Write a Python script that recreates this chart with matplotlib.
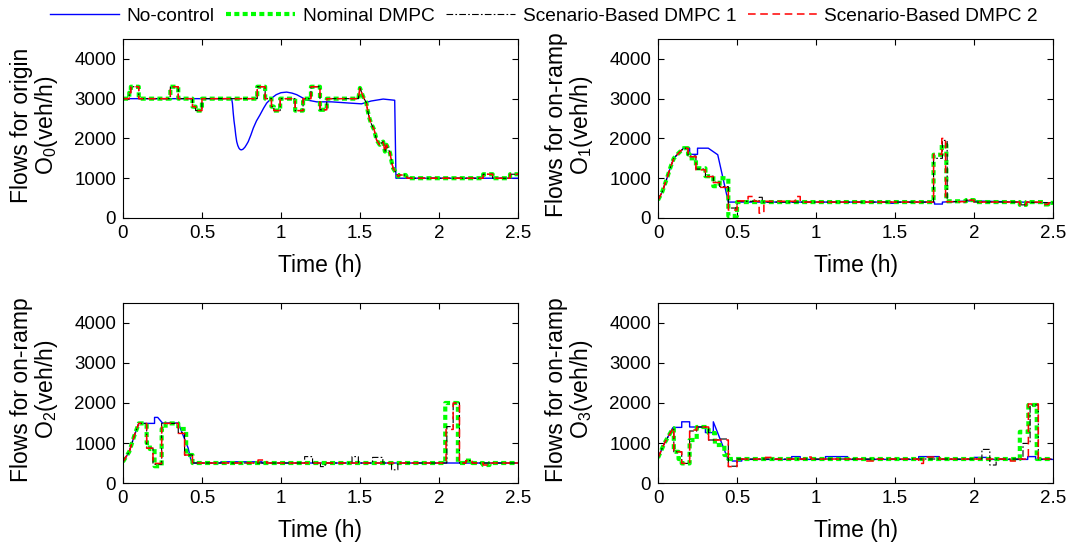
import matplotlib
matplotlib.use("Agg")
import matplotlib.pyplot as plt

plt.rcParams["font.family"] = ["Liberation Sans", "DejaVu Sans"]
plt.rcParams["mathtext.default"] = "regular"

# ----------------- data: (time h, flow veh/h) vertices -----------------
# O0 : origin
o0_nocontrol = [(0, 3000), (0.688, 3000), (0.693, 2880), (0.698, 2640), (0.703, 2440), (0.709, 2260),
                (0.714, 2080), (0.72, 1920), (0.727, 1820), (0.735, 1750), (0.743, 1718), (0.751, 1713),
                (0.76, 1730), (0.772, 1780), (0.783, 1850), (0.793, 1920), (0.81, 2090), (0.825, 2260),
                (0.845, 2440), (0.867, 2590), (0.89, 2760), (0.91, 2890), (0.94, 3010), (0.97, 3100),
                (1.0, 3150), (1.036, 3165), (1.07, 3140), (1.10, 3100), (1.16, 2970), (1.226, 2920),
                (1.32, 2920), (1.43, 2890), (1.51, 2870), (1.57, 2940), (1.647, 2990), (1.72, 2960),
                (1.728, 1000), (2.5, 1000)]
o0_nominal = [(0, 3000), (0.04, 3000), (0.04, 3150), (0.05, 3150), (0.05, 3300), (0.10, 3300), (0.10, 3000),
              (0.30, 3000), (0.30, 3300), (0.35, 3300), (0.35, 3000), (0.44, 3000), (0.44, 2800), (0.46, 2800),
              (0.46, 2700), (0.50, 2700), (0.50, 3000), (0.85, 3000), (0.85, 3300), (0.90, 3300), (0.90, 3000),
              (0.94, 3000), (0.94, 2800), (0.955, 2800), (0.955, 2700), (0.995, 2700), (0.995, 3000),
              (1.09, 3000), (1.09, 2700), (1.14, 2700), (1.14, 3000), (1.19, 3000), (1.19, 3300),
              (1.247, 3300), (1.247, 2720), (1.29, 2720), (1.29, 3000), (1.49, 3000), (1.50, 3270),
              (1.52, 3050), (1.54, 2900), (1.55, 2680), (1.56, 2510), (1.57, 2385), (1.59, 2217),
              (1.605, 1965), (1.625, 1840), (1.647, 1920), (1.658, 1670), (1.668, 1840), (1.69, 1640),
              (1.70, 1420), (1.71, 1250), (1.73, 1125), (1.743, 1040), (1.75, 1080), (1.79, 1080),
              (1.80, 1000), (2.28, 1000), (2.28, 1100), (2.34, 1100), (2.34, 1000), (2.45, 1000),
              (2.45, 1100), (2.5, 1100)]
o0_sb1 = o0_nominal
o0_sb2 = o0_nominal

# O1 : on-ramp 1
o1_nocontrol = [(0, 450), (0.027, 660), (0.06, 1040), (0.08, 1290), (0.10, 1500), (0.13, 1630), (0.162, 1755),
                (0.20, 1755), (0.20, 1600), (0.25, 1600), (0.25, 1755), (0.318, 1755), (0.378, 1590),
                (0.445, 400), (1.47, 400), (1.47, 370), (1.51, 370), (1.51, 400), (1.75, 400), (1.75, 350),
                (1.80, 350), (1.80, 400), (1.98, 430), (2.5, 380)]
o1_nominal = [(0, 450), (0.027, 660), (0.06, 1040), (0.08, 1290), (0.10, 1500), (0.13, 1630), (0.162, 1755),
              (0.19, 1755), (0.19, 1600), (0.20, 1600), (0.20, 1500), (0.24, 1500), (0.24, 1250), (0.30, 1250),
              (0.30, 1050), (0.35, 1050), (0.35, 800), (0.39, 800), (0.39, 1000), (0.445, 1000), (0.445, 50),
              (0.50, 50), (0.50, 400), (1.744, 400), (1.744, 1590), (1.796, 1590), (1.796, 1840),
              (1.825, 1840), (1.825, 420), (1.95, 420), (1.95, 450), (2.0, 450), (2.0, 400), (2.29, 400),
              (2.29, 330), (2.33, 330), (2.33, 400), (2.44, 400), (2.44, 340), (2.47, 340), (2.47, 380),
              (2.5, 380)]
o1_sb1 = [(0, 450), (0.027, 660), (0.06, 1040), (0.08, 1290), (0.10, 1500), (0.13, 1630), (0.162, 1755),
          (0.19, 1755), (0.19, 1560), (0.24, 1560), (0.24, 1230), (0.30, 1230), (0.30, 1050), (0.35, 1050),
          (0.35, 900), (0.39, 900), (0.39, 790), (0.445, 790), (0.445, 250), (0.50, 250), (0.50, 420),
          (0.64, 420), (0.64, 520), (0.66, 520), (0.66, 400), (1.744, 400), (1.744, 1500), (1.80, 1500),
          (1.80, 1950), (1.83, 1950), (1.83, 410), (1.95, 410), (1.95, 450), (2.0, 450), (2.0, 400),
          (2.29, 400), (2.29, 330), (2.33, 330), (2.33, 400), (2.5, 380)]
o1_sb2 = [(0, 450), (0.027, 660), (0.06, 1040), (0.08, 1290), (0.10, 1500), (0.13, 1630), (0.162, 1755),
          (0.19, 1755), (0.19, 1540), (0.24, 1540), (0.24, 1210), (0.30, 1210), (0.30, 1040), (0.35, 1040),
          (0.35, 890), (0.39, 890), (0.39, 770), (0.445, 770), (0.445, 200), (0.50, 200), (0.50, 430),
          (0.57, 430), (0.57, 540), (0.61, 540), (0.61, 420), (0.64, 420), (0.64, 120), (0.67, 120),
          (0.67, 420), (0.87, 420), (0.87, 540), (0.90, 540), (0.90, 400), (1.744, 400), (1.744, 1600),
          (1.796, 1600), (1.796, 2000), (1.82, 2000), (1.82, 410), (1.95, 410), (1.95, 450), (2.0, 450),
          (2.0, 400), (2.29, 400), (2.29, 330), (2.33, 330), (2.33, 400), (2.44, 400), (2.44, 340),
          (2.47, 340), (2.47, 380), (2.5, 380)]

# O2 : on-ramp 2
o2_nocontrol = [(0, 530), (0.04, 783), (0.07, 1160), (0.10, 1490), (0.20, 1490), (0.20, 1640), (0.22, 1640),
                (0.25, 1500), (0.35, 1500), (0.413, 870), (0.43, 575), (0.45, 500), (0.62, 500), (0.62, 530),
                (0.88, 530), (0.88, 500), (2.5, 500)]
o2_nominal = [(0, 530), (0.04, 783), (0.07, 1160), (0.10, 1490), (0.15, 1490), (0.15, 1000), (0.17, 1000),
              (0.17, 850), (0.20, 850), (0.20, 420), (0.245, 420), (0.245, 1350), (0.27, 1350), (0.27, 1490),
              (0.35, 1490), (0.35, 1350), (0.40, 1350), (0.40, 700), (0.44, 700), (0.44, 500), (2.04, 500),
              (2.04, 2000), (2.12, 2000), (2.12, 500), (2.17, 500), (2.17, 560), (2.21, 560), (2.21, 500),
              (2.28, 500), (2.28, 450), (2.32, 450), (2.32, 500), (2.5, 500)]
o2_sb1 = [(0, 530), (0.04, 783), (0.07, 1160), (0.10, 1490), (0.15, 1490), (0.15, 870), (0.19, 870),
          (0.19, 470), (0.245, 470), (0.245, 1490), (0.35, 1490), (0.35, 1260), (0.39, 1260), (0.39, 700),
          (0.44, 700), (0.44, 500), (1.15, 500), (1.15, 660), (1.20, 660), (1.20, 500), (1.25, 500),
          (1.25, 410), (1.28, 410), (1.28, 500), (1.45, 500), (1.45, 660), (1.49, 660), (1.49, 500),
          (1.58, 500), (1.58, 640), (1.645, 640), (1.645, 500), (1.70, 500), (1.70, 330), (1.74, 330),
          (1.74, 500), (2.05, 500), (2.05, 1410), (2.09, 1410), (2.09, 2000), (2.13, 2000), (2.13, 500),
          (2.17, 500), (2.17, 560), (2.21, 560), (2.21, 500), (2.5, 500)]
o2_sb2 = [(0, 530), (0.04, 783), (0.07, 1160), (0.10, 1490), (0.15, 1490), (0.15, 870), (0.19, 870),
          (0.19, 490), (0.245, 490), (0.245, 1490), (0.35, 1490), (0.35, 1240), (0.39, 1240), (0.39, 700),
          (0.44, 700), (0.44, 500), (0.855, 500), (0.855, 575), (0.91, 575), (0.91, 500), (2.045, 500),
          (2.045, 1340), (2.09, 1340), (2.09, 2000), (2.13, 2000), (2.13, 500), (2.17, 500), (2.17, 560),
          (2.21, 560), (2.21, 500), (2.28, 500), (2.28, 450), (2.32, 450), (2.32, 500), (2.5, 500)]

# O3 : on-ramp 3
o3_nocontrol = [(0, 630), (0.04, 990), (0.095, 1390), (0.15, 1390), (0.15, 1530), (0.20, 1530), (0.20, 1400),
                (0.30, 1400), (0.30, 1260), (0.35, 1260), (0.35, 1530), (0.445, 575), (0.47, 590), (0.47, 550),
                (0.53, 550), (0.53, 590), (0.846, 590), (0.846, 660), (0.90, 660), (0.90, 590), (1.06, 590),
                (1.06, 660), (1.20, 660), (1.20, 590), (1.65, 590), (1.65, 660), (1.78, 660), (1.78, 590),
                (2.0, 590), (2.0, 640), (2.08, 640), (2.08, 590), (2.34, 590), (2.34, 660), (2.39, 660),
                (2.39, 590), (2.5, 590)]
o3_nominal = [(0, 630), (0.04, 990), (0.095, 1370), (0.10, 1370), (0.10, 780), (0.13, 780), (0.13, 600),
              (0.15, 600), (0.15, 490), (0.20, 490), (0.20, 1075), (0.245, 1075), (0.245, 1400), (0.32, 1400),
              (0.32, 1250), (0.36, 1250), (0.36, 950), (0.42, 950), (0.42, 700), (0.445, 700), (0.445, 600),
              (2.29, 600), (2.29, 1280), (2.344, 1280), (2.344, 1950), (2.397, 1950), (2.397, 600), (2.5, 600)]
o3_sb1 = [(0, 630), (0.04, 990), (0.095, 1370), (0.10, 1370), (0.10, 780), (0.15, 780), (0.15, 490),
          (0.20, 490), (0.20, 1300), (0.245, 1300), (0.245, 1400), (0.32, 1400), (0.32, 1075), (0.38, 1075),
          (0.38, 1100), (0.445, 1100), (0.445, 420), (0.50, 420), (0.50, 600), (2.05, 600), (2.05, 840),
          (2.10, 840), (2.10, 450), (2.14, 450), (2.14, 600), (2.31, 600), (2.31, 990), (2.355, 990),
          (2.355, 1950), (2.407, 1950), (2.407, 600), (2.5, 600)]
o3_sb2 = [(0, 630), (0.04, 990), (0.095, 1370), (0.10, 1370), (0.10, 780), (0.15, 780), (0.15, 490),
          (0.20, 490), (0.20, 1325), (0.245, 1325), (0.245, 1400), (0.32, 1400), (0.32, 1075), (0.445, 1075),
          (0.445, 410), (0.50, 410), (0.50, 600), (0.68, 600), (0.68, 640), (0.72, 640), (0.72, 600),
          (0.93, 600), (0.93, 650), (0.97, 650), (0.97, 600), (1.31, 600), (1.31, 550), (1.37, 550),
          (1.37, 600), (1.65, 600), (1.65, 490), (1.68, 490), (1.68, 650), (1.78, 650), (1.78, 600),
          (2.23, 600), (2.23, 550), (2.28, 550), (2.28, 600), (2.344, 600), (2.344, 1975), (2.407, 1975),
          (2.407, 600), (2.5, 600)]

panels = [
    ("Flows for origin\nO$_0$(veh/h)", o0_nocontrol, o0_nominal, o0_sb1, o0_sb2),
    ("Flows for on-ramp\nO$_1$(veh/h)", o1_nocontrol, o1_nominal, o1_sb1, o1_sb2),
    ("Flows for on-ramp\nO$_2$(veh/h)", o2_nocontrol, o2_nominal, o2_sb1, o2_sb2),
    ("Flows for on-ramp\nO$_3$(veh/h)", o3_nocontrol, o3_nominal, o3_sb1, o3_sb2),
]

# ----------------- styles -----------------
styles = [
    dict(color="#0000ff", lw=1.0, ls="-", label="No-control"),
    dict(color="#00ff00", lw=3.0, ls=(0, (1.2, 0.8)), label="Nominal DMPC"),
    dict(color="black", lw=0.8, ls=(0, (6, 2, 1.5, 2)), label="Scenario-Based DMPC 1"),
    dict(color="#ff0000", lw=1.1, ls=(0, (5, 3)), label="Scenario-Based DMPC 2"),
]

fig = plt.figure(figsize=(10.71, 5.44), dpi=100)
positions = [
    [0.1148, 0.5993, 0.3688, 0.329],
    [0.6144, 0.5993, 0.3688, 0.329],
    [0.1148, 0.1121, 0.3688, 0.331],
    [0.6144, 0.1121, 0.3688, 0.331],
]

handles = []
for pos, (ylab, *series) in zip(positions, panels):
    ax = fig.add_axes(pos)
    lines = []
    for data, st in zip(series, styles):
        t = [p[0] for p in data]
        v = [p[1] for p in data]
        ln, = ax.plot(t, v, color=st["color"], lw=st["lw"], linestyle=st["ls"], label=st["label"])
        lines.append(ln)
    handles = lines
    ax.set_xlim(0, 2.5)
    ax.set_ylim(0, 4500)
    ax.set_xticks([0, 0.5, 1, 1.5, 2, 2.5])
    ax.set_xticklabels(["0", "0.5", "1", "1.5", "2", "2.5"])
    ax.set_yticks([0, 1000, 2000, 3000, 4000])
    ax.tick_params(direction="in", top=True, right=True, length=4, width=0.8, labelsize=13.5, pad=5)
    ax.set_xlabel("Time (h)", fontsize=16.5)
    ax.set_ylabel(ylab, fontsize=16.5, linespacing=1.0)
    ax.xaxis.set_label_coords(0.5, -0.2)
    ax.yaxis.set_label_coords(-0.16, 0.52)
    for sp in ax.spines.values():
        sp.set_linewidth(0.8)

fig.legend(handles=handles, loc="center", bbox_to_anchor=(0.508, 0.97), ncol=4, frameon=False,
           fontsize=13.8, handlelength=3.6, handletextpad=0.4, columnspacing=0.6)

fig.savefig("out.png", dpi=100, facecolor="white")
